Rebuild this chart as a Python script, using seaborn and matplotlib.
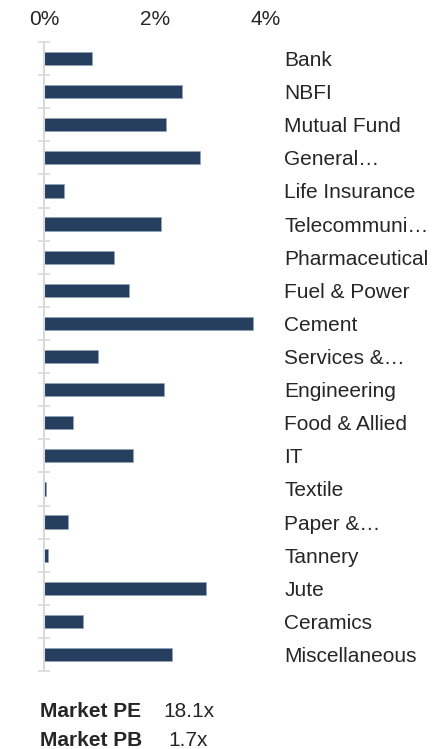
import matplotlib
matplotlib.use("Agg")
import matplotlib.pyplot as plt
import seaborn as sns
import pandas as pd
import numpy as np

# sector weights (%)
sectors = ["Bank", "NBFI", "Mutual Fund", "General\u2026", "Life Insurance",
           "Telecommuni\u2026", "Pharmaceutical", "Fuel & Power", "Cement",
           "Services &\u2026", "Engineering", "Food & Allied", "IT", "Textile",
           "Paper &\u2026", "Tannery", "Jute", "Ceramics", "Miscellaneous"]
values = [0.87, 2.49, 2.20, 2.81, 0.36, 2.11, 1.26, 1.53, 3.77, 0.98,
          2.17, 0.53, 1.61, 0.03, 0.43, 0.07, 2.91, 0.70, 2.30]
x_ticks = [0, 2, 4]
x_ticklabels = ["0%", "2%", "4%"]
footer_labels = ["Market PE", "Market PB"]
footer_values = ["18.1x", "1.7x"]

df = pd.DataFrame({"Sector": sectors, "Value": values})

sns.set_style("white")
plt.rcParams["font.family"] = ["Liberation Sans", "DejaVu Sans"]

fig = plt.figure(figsize=(4.48, 7.49), dpi=100)
ax = fig.add_axes([0.098, 0.104, 0.496, 0.84])

sns.barplot(data=df, x="Value", y="Sector", orient="h", color="#263f5f",
            saturation=1, width=0.4, edgecolor="#8fa3bd", linewidth=0.4, ax=ax)

ax.set_xlim(0, 4)
ax.set_ylim(len(sectors) - 0.5, -0.5)
ax.set_xlabel("")
ax.set_ylabel("")

# x axis on top, labels only
ax.xaxis.tick_top()
ax.set_xticks(x_ticks)
ax.set_xticklabels(x_ticklabels, fontsize=15)
ax.tick_params(axis="x", length=0, pad=9)

# category labels on the right
ax.yaxis.tick_right()
ax.set_yticks(range(len(sectors)))
ax.set_yticklabels(sectors, fontsize=15)
ax.tick_params(axis="y", which="major", length=0, pad=13)
ax.set_yticks(np.arange(-0.5, len(sectors), 1), minor=True)
ax.tick_params(axis="y", which="minor", left=True, right=False, direction="inout",
               length=9, width=1.2, color="#d9d9d9")

for s in ["top", "right", "bottom"]:
    ax.spines[s].set_visible(False)
ax.spines["left"].set_color("#d9d9d9")
ax.spines["left"].set_linewidth(1.5)

# footer
for i, (lab, val) in enumerate(zip(footer_labels, footer_values)):
    y = 1 - (717 + 29 * i) / 749
    fig.text(40 / 448, y, lab, fontsize=15, fontweight="bold", va="baseline")
    fig.text((163 + 5 * i) / 448, y, val, fontsize=15, va="baseline")

fig.savefig("out.png", dpi=100)
